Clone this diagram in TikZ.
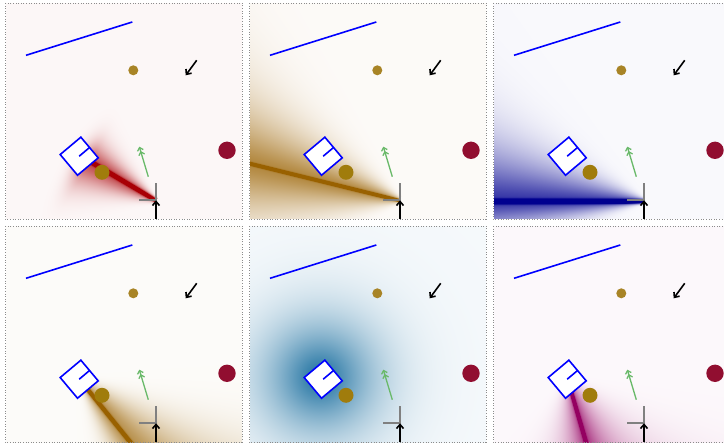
\documentclass[tikz,border=0pt]{standalone}
\usetikzlibrary{arrows.meta}

\definecolor{smallgold}{RGB}{168,132,38}
\definecolor{biggold}{RGB}{160,124,12}
\definecolor{crimsondot}{RGB}{145,14,48}
\definecolor{pureblue}{RGB}{0,0,255}
\definecolor{lgreen}{RGB}{105,185,105}
\definecolor{midgray}{RGB}{128,128,128}
\definecolor{bordergray}{RGB}{140,140,140}

% generic beam intensity -> colour (PostScript calculator code)
\def\qbeambody{%
\qSy sub exch \qSx sub exch
2 copy \quy mul exch \qux mul add
3 1 roll \qny mul exch \qnx mul add
1 index \qtmin lt
{ pop pop 0 }
{ dup \qwc div dup mul neg 2.71828 exch exp \qBc mul
  2 index 2 index exch \qtz add div
  dup 0 gt {\qsU} {\qsL} ifelse
  exch abs exch div \qPp exp neg 2.71828 exch exp \qAf mul
  add exch pop
  exch \qLb sub dup 0 lt {pop 0} if \qfl div dup mul neg 2.71828 exch exp
  mul dup 1 gt {pop 1} if }
ifelse
dup \qcR \qbR sub mul \qbR add exch
dup \qcG \qbG sub mul \qbG add exch
\qcB \qbB sub mul \qbB add}

\def\qradbody{%
\qSy sub dup mul exch \qSx sub dup mul add sqrt \qsU div \qPp exp neg 2.71828 exch exp \qAf mul
dup \qcR \qbR sub mul \qbR add exch
dup \qcG \qbG sub mul \qbG add exch
\qcB \qbB sub mul \qbB add}

% panel 1: red
\pgfdeclarefunctionalshading{shA}{\pgfpointorigin}{\pgfpoint{237bp}{216bp}}{%
\def\qSx{151 }\def\qSy{18.7 }\def\qux{-0.861 }\def\quy{0.510 }\def\qnx{-0.510 }\def\qny{-0.861 }%
\def\qtmin{0 }\def\qwc{2.0 }\def\qBc{1 }\def\qtz{6 }\def\qsU{0.3 }\def\qsL{0.22 }\def\qAf{0.72 }\def\qPp{1.5 }\def\qLb{76 }\def\qfl{12 }%
\def\qbR{0.99 }\def\qbG{0.97 }\def\qbB{0.97 }\def\qcR{0.66 }\def\qcG{0.0 }\def\qcB{0.02 }%
}{\qbeambody}

% panel 2: brown
\pgfdeclarefunctionalshading{shB}{\pgfpointorigin}{\pgfpoint{237bp}{216bp}}{%
\def\qSx{151 }\def\qSy{18.7 }\def\qux{-0.971 }\def\quy{0.239 }\def\qnx{-0.239 }\def\qny{-0.971 }%
\def\qtmin{0 }\def\qwc{1.5 }\def\qBc{1 }\def\qtz{6 }\def\qsU{0.3 }\def\qsL{0.31 }\def\qAf{0.75 }\def\qPp{1.4 }\def\qLb{1000 }\def\qfl{10 }%
\def\qbR{0.99 }\def\qbG{0.98 }\def\qbB{0.97 }\def\qcR{0.60 }\def\qcG{0.38 }\def\qcB{0.0 }%
}{\qbeambody}

% panel 3: navy
\pgfdeclarefunctionalshading{shC}{\pgfpointorigin}{\pgfpoint{237bp}{216bp}}{%
\def\qSx{151 }\def\qSy{18 }\def\qux{-1 }\def\quy{0 }\def\qnx{0 }\def\qny{-1 }%
\def\qtmin{0 }\def\qwc{2.2 }\def\qBc{1 }\def\qtz{6 }\def\qsU{0.17 }\def\qsL{0.33 }\def\qAf{0.8 }\def\qPp{1.4 }\def\qLb{1000 }\def\qfl{10 }%
\def\qbR{0.975 }\def\qbG{0.975 }\def\qbB{0.99 }\def\qcR{0.0 }\def\qcG{0.0 }\def\qcB{0.56 }%
}{\qbeambody}

% panel 4: brown, downwards
\pgfdeclarefunctionalshading{shD}{\pgfpointorigin}{\pgfpoint{237bp}{216bp}}{%
\def\qSx{74.2 }\def\qSy{62.8 }\def\qux{0.629 }\def\quy{-0.777 }\def\qnx{0.777 }\def\qny{0.629 }%
\def\qtmin{0 }\def\qwc{1.8 }\def\qBc{1 }\def\qtz{6 }\def\qsU{0.38 }\def\qsL{0.21 }\def\qAf{0.7 }\def\qPp{1.5 }\def\qLb{1000 }\def\qfl{10 }%
\def\qbR{0.99 }\def\qbG{0.985 }\def\qbB{0.975 }\def\qcR{0.60 }\def\qcG{0.38 }\def\qcB{0.0 }%
}{\qbeambody}

% panel 5: teal radial
\pgfdeclarefunctionalshading{shE}{\pgfpointorigin}{\pgfpoint{237bp}{216bp}}{%
\def\qSx{71 }\def\qSy{65.3 }\def\qsU{55 }\def\qPp{1.5 }\def\qAf{0.9 }%
\def\qbR{0.96 }\def\qbG{0.975 }\def\qbB{0.985 }\def\qcR{0.05 }\def\qcG{0.40 }\def\qcB{0.60 }%
}{\qradbody}

% panel 6: magenta
\pgfdeclarefunctionalshading{shF}{\pgfpointorigin}{\pgfpoint{237bp}{216bp}}{%
\def\qSx{74.2 }\def\qSy{62.8 }\def\qux{0.281 }\def\quy{-0.960 }\def\qnx{0.960 }\def\qny{0.281 }%
\def\qtmin{0 }\def\qwc{1.6 }\def\qBc{1 }\def\qtz{6 }\def\qsU{0.34 }\def\qsL{0.25 }\def\qAf{0.85 }\def\qPp{1.0 }\def\qLb{1000 }\def\qfl{10 }%
\def\qbR{0.99 }\def\qbG{0.972 }\def\qbB{0.985 }\def\qcR{0.58 }\def\qcG{0.0 }\def\qcB{0.38 }%
}{\qbeambody}

\tikzset{
  panelborder/.style={draw=bordergray, line width=0.8bp, dash pattern=on 1bp off 1.6bp},
  blueline/.style={draw=pureblue, line width=1.6bp},
  dot/.style={circle, inner sep=0pt, outer sep=0pt, draw=none},
  blackarrow/.style={draw=black, line width=1.6bp, -{Straight Barb[length=4bp,width=7bp]}},
  greenarrow/.style={draw=lgreen, line width=1.3bp, -{Straight Barb[length=3bp,width=6bp]Straight Barb[length=3bp,width=6bp]}},
  sqnode/.style={rectangle, draw=pureblue, fill=white, line width=1.6bp, minimum size=27bp, inner sep=0pt, outer sep=0pt, rotate=40},
  grayl/.style={draw=midgray, line width=1.8bp},
}

\newcommand{\qpanel}[3]{%
\begin{scope}[shift={(#1,#2)}]
 \node[inner sep=0pt, outer sep=0pt, anchor=south west] (bg#3) at (0,216) {\pgfuseshading{sh#3}};
 \draw[panelborder] (0,0) rectangle (237,216);
 \coordinate (la#3) at (21,52.3);
 \coordinate (lb#3) at (127.3,19);
 \draw[blueline] (la#3) -- (lb#3);
 \node[dot, fill=smallgold, minimum size=10bp] (gs#3) at (128.3,67.3) {};
 \coordinate (ka#3) at (191.7,57.3);
 \coordinate (kb#3) at (180.7,72.3);
 \draw[blackarrow] (ka#3) -- (kb#3);
 \node[sqnode] (sq#3) at (74.2,153.2) {};
 \draw[blueline] (sq#3.center) -- (sq#3.east);
 \node[dot, fill=biggold, minimum size=15bp] (gb#3) at (97,169.3) {};
 \coordinate (ga#3) at (143.3,173.7);
 \coordinate (gt#3) at (134.3,143.7);
 \draw[greenarrow] (ga#3) -- (gt#3);
 \node[dot, fill=crimsondot, minimum size=17.4bp] (cr#3) at (222,147.3) {};
 \coordinate (lt#3) at (151,180.3);
 \coordinate (lc#3) at (151,197.3);
 \coordinate (ll#3) at (134,197.3);
 \draw[grayl] (lt#3) -- (lc#3) -- (ll#3);
 \coordinate (ab#3) at (151,216);
 \draw[blackarrow] (ab#3) -- (lc#3);
\end{scope}}

\begin{document}
\begin{tikzpicture}[x=1bp, y=-1bp]
\useasboundingbox (0,0) rectangle (724,444);
\fill[white] (0,0) rectangle (724,444);
\qpanel{5}{3}{A}
\qpanel{249}{3}{B}
\qpanel{493}{3}{C}
\qpanel{5}{226}{D}
\qpanel{249}{226}{E}
\qpanel{493}{226}{F}
\end{tikzpicture}
\end{document}
